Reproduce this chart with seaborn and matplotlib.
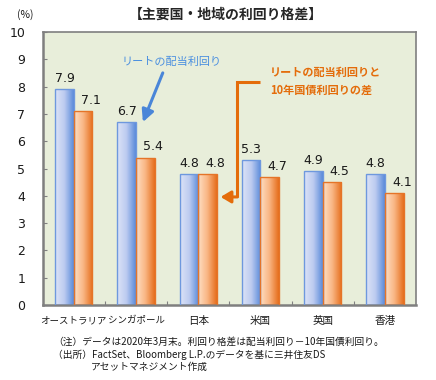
import numpy as np
import pandas as pd
import matplotlib
matplotlib.use('Agg')
import matplotlib.pyplot as plt
import seaborn as sns
from matplotlib.colors import LinearSegmentedColormap
from matplotlib.ticker import FixedLocator

# ---- data ----
categories = ['オーストラリア', 'シンガポール', '日本', '米国', '英国', '香港']
reit_yield = [7.9, 6.7, 4.8, 5.3, 4.9, 4.8]
yield_spread = [7.1, 5.4, 4.8, 4.7, 4.5, 4.1]
series_names = ['リートの配当利回り', 'リートの配当利回りと10年国債利回りの差']
yticks = list(range(0, 11))

sns.set_theme(style='white')
plt.rcParams['font.family'] = ['Noto Sans CJK JP', 'DejaVu Sans']

df = pd.DataFrame({
    '国・地域': categories * 2,
    '系列': [series_names[0]] * len(categories) + [series_names[1]] * len(categories),
    '利回り': reit_yield + yield_spread,
})

fig = plt.figure(figsize=(4.36, 3.8), dpi=100)
ax = fig.add_axes([0.098, 0.197, 0.856, 0.719])
ax.set_facecolor('#E8EEDA')

sns.barplot(data=df, x='国・地域', y='利回り', hue='系列', order=categories,
            hue_order=series_names, palette=['#8FAEE6', '#F5A46A'],
            width=0.6, gap=0, ax=ax, legend=False, errorbar=None)

# gradient fill of bars
blue_cmap = LinearSegmentedColormap.from_list('b', ['#DCE3F7', '#BCCBF0', '#5A8ADA'])
orange_cmap = LinearSegmentedColormap.from_list('o', ['#FEDFC4', '#F9B583', '#E66E1C'])
grad = np.linspace(0, 1, 64).reshape(1, -1)
label_dx = [0, 5.5]
for cont, cmap, ec, dx in zip(ax.containers, [blue_cmap, orange_cmap],
                              ['#6E98DE', '#E57428'], label_dx):
    for bar in cont:
        x0, y0 = bar.get_x(), bar.get_y()
        w, h = bar.get_width(), bar.get_height()
        bar.set_zorder(3)
        im = ax.imshow(grad, cmap=cmap, extent=(x0, x0 + w, y0, y0 + h),
                       aspect='auto', zorder=2.5, interpolation='bicubic')
        im.set_clip_path(bar)
        bar.set_facecolor('none')
        bar.set_edgecolor(ec)
        bar.set_linewidth(1.0)
    anns = ax.bar_label(cont, fmt='%.1f', padding=3, fontsize=9, family='DejaVu Sans',
                        color='#1A1A1A')
    for a in anns:
        a.xyann = (dx, 3)

ax.set_xlim(-0.5, len(categories) - 0.5)
ax.set_ylim(0, 10)
ax.set_yticks(yticks)
ax.set_xlabel('')
ax.set_ylabel('')

for s in ax.spines.values():
    s.set_visible(True)
    s.set_color('#7F7F7F')
    s.set_linewidth(1.2)
ax.spines['left'].set_linewidth(1.8)
ax.spines['bottom'].set_linewidth(1.8)

ax.tick_params(axis='y', direction='in', length=3, width=0.8, color='#808080',
               labelsize=9, labelcolor='#1A1A1A', pad=12.5, left=True)
for lab in ax.get_yticklabels():
    lab.set_family('DejaVu Sans')
ax.tick_params(axis='x', which='major', length=0, labelsize=7.6, labelcolor='#1A1A1A', pad=8)
for lab in ax.get_xticklabels():
    if len(lab.get_text()) > 4:
        lab.set_fontsize(6.8)
ax.xaxis.set_minor_locator(FixedLocator([i + 0.5 for i in range(len(categories) - 1)]))
ax.tick_params(axis='x', which='minor', direction='in', length=3, width=0.8,
               color='#808080', bottom=True)

# annotations
ax.annotate('', xy=(1.11, 6.70), xytext=(1.43, 8.50),
            arrowprops=dict(arrowstyle='-|>,head_width=0.3,head_length=0.6',
                            color='#4A86D8', lw=2.2, shrinkA=0, shrinkB=0))
ax.text(1.575, 8.90, 'リートの配当利回り', ha='center', va='center',
        fontsize=8, color='#4A8FE0')

orange = '#E46C0A'
ax.plot([2.988, 2.619, 2.619], [8.17, 8.17, 3.96], color=orange, lw=2.2,
        solid_joinstyle='miter', solid_capstyle='butt', zorder=5)
ax.annotate('', xy=(2.36, 3.96), xytext=(2.63, 3.96),
            arrowprops=dict(arrowstyle='-|>,head_width=0.3,head_length=0.5',
                            color=orange, lw=2.2, shrinkA=0, shrinkB=0), zorder=5)
ax.text(3.148, 8.19, 'リートの配当利回りと\n10年国債利回りの差', ha='left', va='center',
        fontsize=8, color=orange, fontweight='bold', linespacing=1.45)

# figure texts
fig.text(25 / 436, 1 - 15 / 380, '(%)', ha='center', va='center', fontsize=7.5,
         color='#1A1A1A')
fig.text(226 / 436, 1 - 15 / 380, '【主要国・地域の利回り格差】', ha='center', va='center',
         fontsize=10, fontweight='bold', color='#262626')
fig.text(53 / 436, 1 - 342 / 380, '（注）データは2020年3月末。利回り格差は配当利回り－10年国債利回り。',
         ha='left', va='center', fontsize=7, color='#1A1A1A')
fig.text(53 / 436, 1 - 354.5 / 380, '（出所）FactSet、Bloomberg L.P.のデータを基に三井住友DS',
         ha='left', va='center', fontsize=7, color='#1A1A1A')
fig.text(91 / 436, 1 - 367 / 380, 'アセットマネジメント作成',
         ha='left', va='center', fontsize=7, color='#1A1A1A')

fig.savefig('out.png', dpi=100)
